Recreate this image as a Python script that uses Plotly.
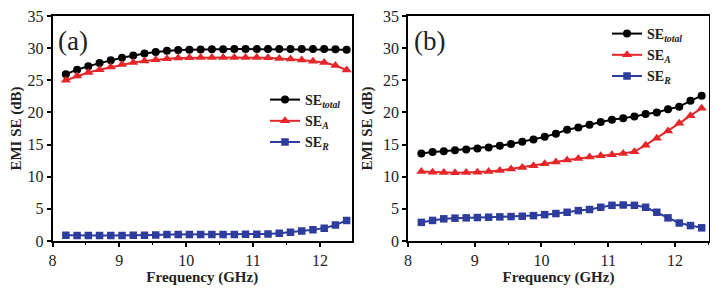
import plotly.graph_objects as go
from plotly.subplots import make_subplots

freq = [8.2, 8.368, 8.536, 8.704, 8.872, 9.04, 9.208, 9.376, 9.544, 9.712, 9.88,
        10.048, 10.216, 10.384, 10.552, 10.72, 10.888, 11.056, 11.224, 11.392,
        11.56, 11.728, 11.896, 12.064, 12.232, 12.4]

a_total = [25.95, 26.65, 27.2, 27.7, 28.1, 28.5, 28.85, 29.15, 29.4, 29.6, 29.7,
           29.75, 29.8, 29.82, 29.83, 29.85, 29.85, 29.85, 29.85, 29.85, 29.85,
           29.85, 29.85, 29.85, 29.82, 29.75]
a_A = [25.0, 25.65, 26.2, 26.65, 27.05, 27.45, 27.75, 28.0, 28.2, 28.35, 28.45,
       28.5, 28.55, 28.55, 28.55, 28.55, 28.55, 28.55, 28.5, 28.4, 28.3, 28.15,
       27.95, 27.75, 27.3, 26.6]
a_R = [0.9, 0.85, 0.85, 0.85, 0.85, 0.85, 0.9, 0.9, 0.95, 1.0, 1.0, 1.0, 1.0,
       1.0, 1.0, 1.0, 1.05, 1.05, 1.1, 1.2, 1.35, 1.55, 1.75, 2.0, 2.5, 3.2]

b_total = [13.6, 13.85, 13.95, 14.1, 14.25, 14.4, 14.55, 14.8, 15.1, 15.45, 15.8,
           16.2, 16.7, 17.3, 17.65, 18.1, 18.5, 18.85, 19.1, 19.35, 19.75, 20.0,
           20.5, 20.9, 21.8, 22.6]
b_A = [10.8, 10.7, 10.65, 10.6, 10.65, 10.7, 10.8, 10.95, 11.2, 11.45, 11.7,
       12.0, 12.3, 12.6, 12.85, 13.05, 13.25, 13.4, 13.6, 13.9, 14.9, 16.0,
       17.1, 18.3, 19.5, 20.65]
b_R = [2.9, 3.2, 3.45, 3.55, 3.6, 3.65, 3.7, 3.75, 3.8, 3.85, 3.95, 4.1, 4.27,
       4.47, 4.73, 4.9, 5.25, 5.55, 5.6, 5.55, 5.25, 4.47, 3.6, 2.8, 2.4, 2.05]

names = ["<b>SE<sub><i>total</i></sub></b>", "<b>SE<sub><i>A</i></sub></b>",
         "<b>SE<sub><i>R</i></sub></b>"]
colors = ["#000000", "#e4262a", "#2e3c9e"]
symbols = ["circle", "triangle-up", "square"]
msizes = [8, 9, 7.5]
panel_labels = ["(a)", "(b)"]
x_ticks = [8, 9, 10, 11, 12]
y_ticks = [0, 5, 10, 15, 20, 25, 30, 35]

fig = make_subplots(rows=1, cols=2)

serif = "Liberation Serif"
for col, (series, leg) in enumerate([((a_total, a_A, a_R), "legend"),
                                     ((b_total, b_A, b_R), "legend2")], start=1):
    for ys, nm, c, s, ms in zip(series, names, colors, symbols, msizes):
        fig.add_trace(go.Scatter(x=freq, y=ys, mode="lines+markers", name=nm,
                                 line=dict(color=c, width=2),
                                 marker=dict(symbol=s, size=ms, color=c),
                                 legend=leg), row=1, col=col)

# page body has an 8px margin, so the figure is 8px smaller and shifted
OFF = 8
W, H = 718 - OFF, 289 - OFF


def px(xr):
    return (xr - OFF) / W


def py(yr):
    return (H - (yr - OFF)) / H


ydom = [py(241), py(16)]
xdoms = [[px(52.5), px(352)], [px(408), px(709)]]
xranges = [[8, 12.48], [8, 12.51]]

axis_common = dict(showline=True, linecolor="black", linewidth=1.5, mirror=True,
                   ticks="outside", ticklen=4, tickwidth=1.5, tickcolor="black",
                   showgrid=False, zeroline=False, automargin=False,
                   ticklabeloverflow="allow",
                   tickfont=dict(family=serif, size=16, color="#222"))

for i in range(2):
    xa = "xaxis" if i == 0 else "xaxis2"
    ya = "yaxis" if i == 0 else "yaxis2"
    fig.layout[xa].update(domain=xdoms[i], range=xranges[i], tickvals=x_ticks,
                          minor=dict(ticks="outside", ticklen=2, dtick=0.5,
                                     tickwidth=1.2, tickcolor="black"),
                          title=dict(text="<b>Frequency (GHz)</b>", standoff=0,
                                     font=dict(family=serif, size=15, color="#222")),
                          **axis_common)
    fig.layout[ya].update(domain=ydom, range=[0, 35], tickvals=y_ticks,
                          title=dict(text="<b>EMI SE (dB)</b>", standoff=7,
                                     font=dict(family=serif, size=15, color="#222")),
                          **axis_common)
    fig.add_annotation(text=panel_labels[i], xref="x domain" if i == 0 else "x2 domain",
                       yref="y domain" if i == 0 else "y2 domain",
                       x=0.013, y=0.965, xanchor="left", yanchor="top", showarrow=False,
                       font=dict(family=serif, size=27, color="#222"))

leg_common = dict(bgcolor="rgba(0,0,0,0)", borderwidth=0,
                  font=dict(family=serif, size=14, color="#222"),
                  xanchor="left", yanchor="top", tracegroupgap=0)
fig.update_layout(
    width=W, height=H, margin=dict(l=0, r=0, t=0, b=0),
    paper_bgcolor="white", plot_bgcolor="white",
    legend=dict(x=px(265), y=py(84), **leg_common),
    legend2=dict(x=px(607), y=py(18), **leg_common),
)

fig.write_html("out.html")
